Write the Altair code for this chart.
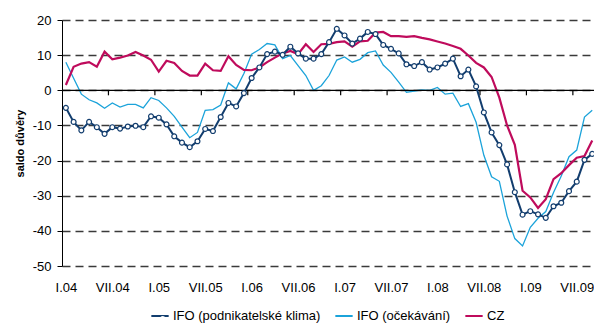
import altair as alt
import pandas as pd

months = list(range(69))

ifo_klima = [-5.0, -9.0, -11.4, -9.0, -10.5, -12.4, -10.5, -10.9, -10.3, -10.1, -10.5, -7.4,
             -7.8, -9.7, -13.1, -14.9, -16.2, -14.5, -11.0, -11.6, -7.6, -3.6, -4.6, -0.8,
             3.5, 6.5, 10.3, 11.0, 10.1, 12.4, 10.5, 9.0, 9.0, 10.3, 13.7, 17.5,
             15.6, 13.3, 14.7, 16.6, 16.0, 12.9, 11.8, 10.5, 7.4, 6.9, 8.0, 5.9,
             6.5, 7.6, 9.0, 4.0, 5.9, 1.1, -6.3, -12.0, -15.6, -21.1, -29.0, -35.4,
             -34.4, -35.3, -36.3, -33.0, -32.0, -28.7, -26.0, -19.8, -18.1]

ifo_exp = [8.0, 3.4, -1.1, -2.7, -3.6, -5.1, -3.6, -4.8, -4.0, -4.0, -5.0, -2.1,
           -2.9, -5.0, -7.4, -10.5, -13.5, -12.0, -5.7, -5.5, -4.2, 2.1, 0.4, 4.8,
           10.3, 11.6, 13.3, 12.9, 9.0, 9.9, 7.0, 4.2, 0.0, 1.3, 4.2, 8.6,
           9.5, 8.0, 8.8, 10.7, 11.2, 7.2, 5.1, 2.3, -0.6, -0.2, 0.1, 0.0,
           0.8, -1.1, -0.8, -4.6, -3.8, -9.1, -18.5, -24.6, -25.9, -35.8, -42.2, -44.3,
           -39.0, -36.4, -34.5, -29.1, -24.4, -18.9, -17.0, -7.6, -5.7]

cz = [1.5, 6.7, 7.6, 8.0, 6.7, 11.0, 8.8, 9.3, 9.9, 10.9, 9.9, 8.7,
      5.3, 8.4, 7.8, 5.5, 4.2, 4.2, 7.6, 5.7, 5.5, 9.7, 7.2, 5.8,
      5.7, 6.5, 8.0, 9.3, 10.5, 11.2, 10.3, 13.1, 10.9, 13.1, 13.2, 13.7,
      13.9, 12.4, 13.9, 14.1, 16.4, 16.6, 15.4, 15.4, 15.2, 15.4, 14.9, 14.5,
      13.9, 13.3, 12.6, 11.8, 9.9, 7.8, 6.5, 3.8, -2.1, -10.0, -15.5, -28.6,
      -30.5, -33.5, -31.0, -25.3, -23.6, -21.3, -19.2, -18.7, -14.3]

tick_labels = ["I.04", "VII.04", "I.05", "VII.05", "I.06", "VII.06",
               "I.07", "VII.07", "I.08", "VII.08", "I.09", "VII.09"]
tick_step = 6
series_names = ["IFO (podnikatelské klima)", "IFO (očekávání)", "CZ"]
colors = ["#123D6E", "#1BA3DA", "#BF0B5C"]

rows = []
for name, vals in zip(series_names, [ifo_klima, ifo_exp, cz]):
    for m, v in zip(months, vals):
        rows.append({"m": m, "v": v, "s": name})
df = pd.DataFrame(rows)

boundaries = pd.DataFrame({"m": [k * tick_step - 0.5 for k in range(1, len(tick_labels))],
                           "v": [0] * (len(tick_labels) - 1)})
zero_df = pd.DataFrame({"v": [0]})

FONT = "Liberation Sans"

x_scale = alt.Scale(domain=[-0.5, 68.23], nice=False, zero=False)
y_scale = alt.Scale(domain=[-50, 20], nice=False)

label_expr = "[" + ",".join("'" + t + "'" for t in tick_labels) + "][round(datum.value/" + str(tick_step) + ")]"

x_axis = alt.Axis(values=[k * tick_step for k in range(len(tick_labels))],
                  labelExpr=label_expr, ticks=False, domain=False, grid=False,
                  labelPadding=15, labelFontSize=13, labelColor="#000",
                  labelFont=FONT, title=None, labelFlush=False, labelOverlap=False)
y_axis = alt.Axis(values=list(range(-50, 21, 10)), labelExpr="'' + datum.value",
                  labelOverlap=False,
                  grid=True, gridDash=[8, 5], gridColor="#3a3a3a", gridWidth=1.4,
                  tickSize=5, tickColor="#000", domainColor="#000",
                  labelPadding=6, labelFontSize=13, labelColor="#000", labelFont=FONT,
                  title="saldo důvěry", titleFontSize=11, titleFontWeight="bold",
                  titleFont=FONT, titleColor="#000", titleAngle=270,
                  titleX=-39, titleY=123, titleAlign="center",
                  titleBaseline="alphabetic")

x_enc = alt.X("m:Q", scale=x_scale, axis=x_axis)
y_enc = alt.Y("v:Q", scale=y_scale, axis=y_axis)

LEG_X, LEG_Y = 88, 286

color_enc = alt.Color("s:N",
                      scale=alt.Scale(domain=series_names, range=colors),
                      legend=alt.Legend(orient="none", legendX=LEG_X, legendY=LEG_Y,
                                        direction="horizontal", title=None,
                                        labelFontSize=13, labelFont=FONT, labelColor="#000",
                                        symbolType="stroke", symbolSize=300, symbolStrokeWidth=2,
                                        columnPadding=10, labelOffset=3, labelLimit=300,
                                        padding=0))

shape_enc = alt.Shape("s:N",
                      scale=alt.Scale(domain=[series_names[0]], range=["circle"]),
                      legend=alt.Legend(orient="none", legendX=LEG_X + 6.2, legendY=LEG_Y + 6,
                                        direction="horizontal", title=None,
                                        labelExpr="''", labelFontSize=13,
                                        symbolSize=24, symbolStrokeWidth=1.2,
                                        symbolFillColor="white", symbolStrokeColor=colors[0],
                                        symbolOpacity=1, padding=0))

base = alt.Chart(df)

zero_line = alt.Chart(zero_df).mark_rule(color="#000", strokeWidth=1.2).encode(y=y_enc)
ticks = alt.Chart(boundaries).mark_rule(color="#000", strokeWidth=1.2).encode(
    x=x_enc, y=y_enc, y2=alt.datum(-1.43))

line_exp = base.transform_filter(alt.datum.s == series_names[1]).mark_line(strokeWidth=1.3).encode(
    x=x_enc, y=y_enc, color=color_enc)
line_cz = base.transform_filter(alt.datum.s == series_names[2]).mark_line(strokeWidth=2.2).encode(
    x=x_enc, y=y_enc, color=color_enc)
line_kl = base.transform_filter(alt.datum.s == series_names[0]).mark_line(strokeWidth=2).encode(
    x=x_enc, y=y_enc, color=color_enc)
pts = base.transform_filter(alt.datum.s == series_names[0]).mark_point(
    filled=False, fill="white", fillOpacity=1, stroke=colors[0],
    strokeWidth=1.2, size=24, opacity=1).encode(x=x_enc, y=y_enc, shape=shape_enc)

chart = alt.layer(line_exp, line_cz, zero_line, ticks, line_kl, pts).properties(
    width=532, height=246,
    autosize=alt.AutoSizeParams(type="none"),
    padding={"left": 62, "top": 20, "right": 0, "bottom": 58},
    background="white"
).configure_view(stroke=None)

chart.save("out.html", embed_options={"renderer": "svg", "actions": False})
